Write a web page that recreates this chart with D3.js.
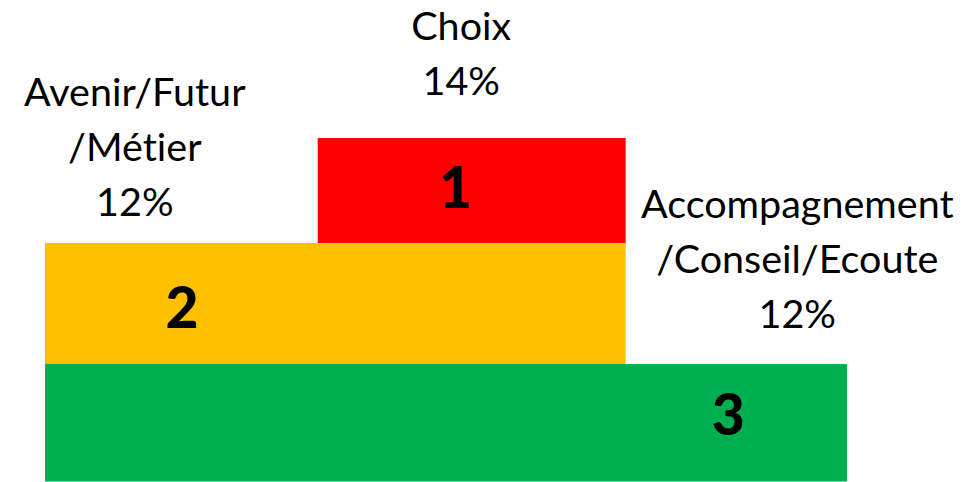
<!DOCTYPE html>
<html>
<head>
<meta charset="utf-8">
<script src="https://cdn.jsdelivr.net/npm/d3@7"></script>
<style>
	html, body { margin: 0; padding: 0; background: #fff; }
	svg { display: block; }
</style>
</head>
<body>
<svg id="chart"></svg>
<script>
// podium data
const ranks = [1, 2, 3];
const themes = [['Choix'], ['Avenir/Futur', '/Métier'], ['Accompagnement', '/Conseil/Ecoute']];
const percents = [14, 12, 12];
const colors = ['#ff0000', '#ffc000', '#00b050'];

const config = {
	width: 961,
	height: 482,
	font: 'Lato, "Open Sans", sans-serif',
	labelSize: 39.5,
	lineHeight: 55,
	numberSize: 57
}

// step geometry on a 0..100 x grid and 0..1 y grid (layout, not data)
const steps = {
	1: { from: 34, to: 72.4, top: 0, bottom: 0.306, num: 51.2, numY: 0.143 },
	2: { from: 0, to: 72.4, top: 0.306, bottom: 0.659, num: 17.1, numY: 0.494 },
	3: { from: 0, to: 100, top: 0.659, bottom: 1, num: 85.2, numY: 0.805 }
};
// label anchors: grid x, baseline of first line
const labelPos = {
	1: { x: 51.9, y: 40 },
	2: { x: 11.2, y: 106 },
	3: { x: 93.8, y: 218 }
};

window.addEventListener('load', function() {
	const svg = d3.select('#chart')
		.attr('width', config.width)
		.attr('height', config.height);

	const x = d3.scaleLinear().domain([0, 100]).range([45, 847]);
	const y = d3.scaleLinear().domain([0, 1]).range([138, 481]);

	const data = ranks.map((r, i) => ({
		rank: r,
		lines: themes[i].concat([percents[i] + '%']),
		color: colors[i]
	}));

	svg.append('g')
		.selectAll('rect')
		.data(data)
		.enter()
		.append('rect')
		.attr('x', d => x(steps[d.rank].from))
		.attr('y', d => y(steps[d.rank].top))
		.attr('width', d => x(steps[d.rank].to) - x(steps[d.rank].from))
		.attr('height', d => y(steps[d.rank].bottom) - y(steps[d.rank].top) + 0.5)
		.attr('fill', d => d.color);

	svg.append('g')
		.selectAll('text')
		.data(data)
		.enter()
		.append('text')
		.attr('x', d => x(steps[d.rank].num))
		.attr('y', d => y(steps[d.rank].numY))
		.attr('dy', '0.36em')
		.attr('text-anchor', 'middle')
		.style('font-family', config.font)
		.style('font-weight', '900')
		.style('font-size', config.numberSize + 'px')
		.attr('fill', '#000')
		.text(d => d.rank);

	const labels = svg.append('g')
		.selectAll('text')
		.data(data)
		.enter()
		.append('text')
		.attr('text-anchor', 'middle')
		.style('font-family', config.font)
		.style('font-size', config.labelSize + 'px')
		.style('font-variant-ligatures', 'none')
		.attr('fill', '#000');

	labels.selectAll('tspan')
		.data(d => d.lines.map((t, i) => ({ t, i, rank: d.rank })))
		.enter()
		.append('tspan')
		.attr('x', d => x(labelPos[d.rank].x))
		.attr('y', d => labelPos[d.rank].y + d.i * config.lineHeight)
		.text(d => d.t);
});
</script>
</body>
</html>
